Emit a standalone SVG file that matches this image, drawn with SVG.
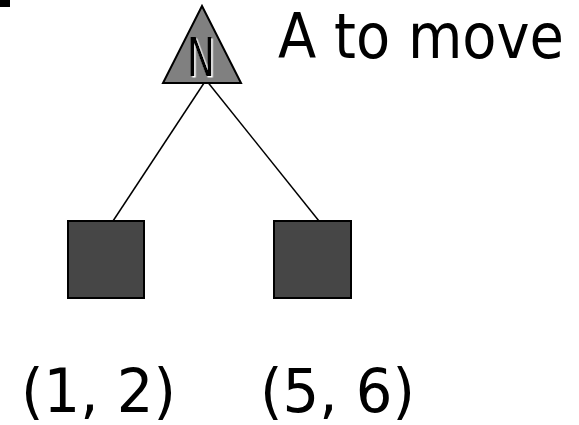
<svg xmlns="http://www.w3.org/2000/svg" width="579" height="425" viewBox="0 0 579 425">
  <style>
    .lbl { font-family: "DejaVu Sans", "Verdana", sans-serif; fill: #000; }
    .leaf { fill: #464646; stroke: #000; stroke-width: 2; }
    .edge { stroke: #000; stroke-width: 1.5; fill: none; }
  </style>
  <defs>
    <!-- white offset shadow behind the node letter -->
    <filter id="lightShadow" x="-20%" y="-20%" width="160%" height="160%">
      <feDropShadow dx="1.5" dy="1.5" stdDeviation="0" flood-color="#fff" flood-opacity="1"/>
    </filter>
  </defs>
  <rect width="579" height="425" fill="#fff"/>
  <!-- clipped bullet fragment in the corner -->
  <rect x="0" y="0" width="10" height="7" fill="#000"/>

  <g id="connectors">
    <line class="edge" x1="206" y1="80" x2="113" y2="221"/>
    <line class="edge" x1="206" y1="80" x2="319" y2="221"/>
  </g>

  <g id="root-node">
    <polygon points="202,6 163,83 241,83" fill="#808080" stroke="#000" stroke-width="2" stroke-linejoin="miter"/>
    <text class="lbl" x="187" y="76" font-size="53" textLength="28" lengthAdjust="spacingAndGlyphs" filter="url(#lightShadow)">N</text>
  </g>

  <g id="caption">
    <text class="lbl" x="278" y="58" font-size="62" textLength="286" lengthAdjust="spacingAndGlyphs">A to move</text>
  </g>

  <g id="leaf-left">
    <rect class="leaf" x="68" y="221" width="76" height="77"/>
  </g>
  <g id="leaf-right">
    <rect class="leaf" x="274" y="221" width="77" height="77"/>
  </g>

  <g id="payoff-left">
    <text class="lbl" x="21" y="412" font-size="61" textLength="155" lengthAdjust="spacingAndGlyphs">(1, 2)</text>
  </g>
  <g id="payoff-right">
    <text class="lbl" x="260" y="412" font-size="61" textLength="155" lengthAdjust="spacingAndGlyphs">(5, 6)</text>
  </g>
</svg>
